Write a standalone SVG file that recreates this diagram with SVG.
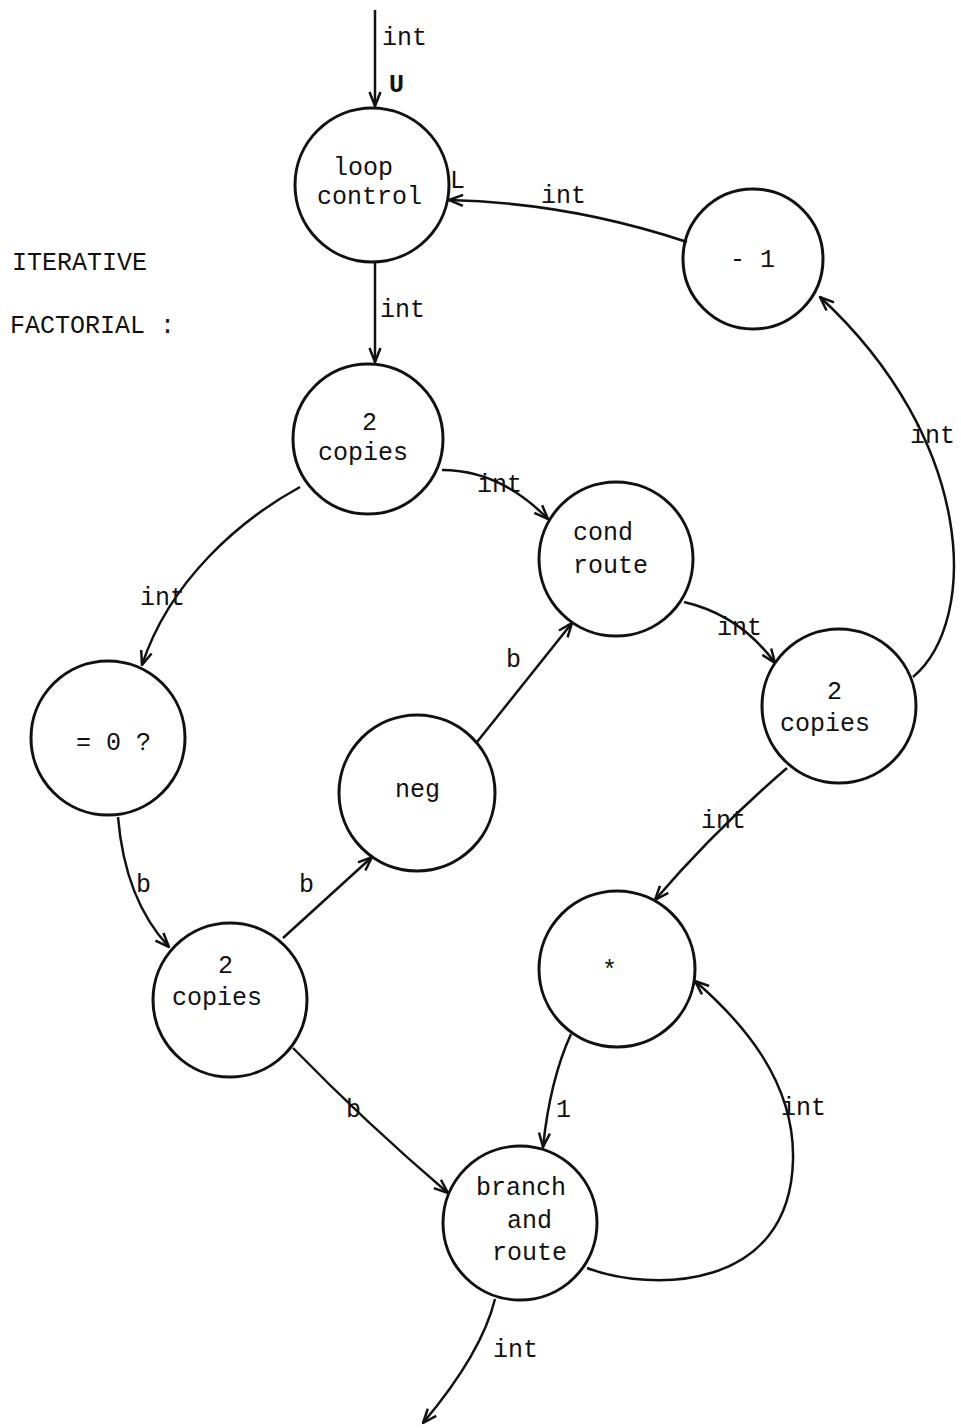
<svg xmlns="http://www.w3.org/2000/svg" width="961" height="1428" viewBox="0 0 961 1428">
  <style>
    .node { fill: none; stroke: #111111; stroke-width: 3; }
    .edge { fill: none; stroke: #111111; stroke-width: 2.5; }
    text { font-family: "Liberation Mono", "DejaVu Sans Mono", monospace; font-size: 25px; fill: #111111; }
  </style>
  <defs>
    <marker id="arrow" viewBox="0 0 16 14" refX="15" refY="7" markerWidth="16" markerHeight="14" markerUnits="userSpaceOnUse" orient="auto">
      <path d="M1,1.5 L15,7 L1,12.5" fill="none" stroke="#111111" stroke-width="2.5"/>
    </marker>
  </defs>
  <rect width="961" height="1428" fill="#ffffff"/>

  <!-- title -->
  <g id="title">
    <text x="12" y="270">ITERATIVE</text>
    <text x="10" y="333">FACTORIAL :</text>
  </g>

  <!-- connectors -->
  <g id="connectors">
    <path class="edge" d="M375,10 L375,106" marker-end="url(#arrow)"/>
    <path class="edge" d="M375,263 L375,362" marker-end="url(#arrow)"/>
    <path class="edge" d="M687,242 Q570,203 449,200" marker-end="url(#arrow)"/>
    <path class="edge" d="M913,677 C980,620 975,440 820,297" marker-end="url(#arrow)"/>
    <path class="edge" d="M442,470 Q500,470 548,519" marker-end="url(#arrow)"/>
    <path class="edge" d="M300,487 C240,520 170,580 142,665" marker-end="url(#arrow)"/>
    <path class="edge" d="M118,817 Q125,900 169,947" marker-end="url(#arrow)"/>
    <path class="edge" d="M283,938 L372,857" marker-end="url(#arrow)"/>
    <path class="edge" d="M477,742 L572,623" marker-end="url(#arrow)"/>
    <path class="edge" d="M293,1048 Q365,1122 448,1193" marker-end="url(#arrow)"/>
    <path class="edge" d="M684,602 Q740,615 775,663" marker-end="url(#arrow)"/>
    <path class="edge" d="M787,768 Q715,830 655,900" marker-end="url(#arrow)"/>
    <path class="edge" d="M571,1034 Q550,1080 543,1147" marker-end="url(#arrow)"/>
    <path class="edge" d="M587,1268 C650,1292 790,1292 793,1160 C795,1080 740,1020 695,981" marker-end="url(#arrow)"/>
    <path class="edge" d="M495,1299 C485,1340 455,1385 423,1423" marker-end="url(#arrow)"/>
  </g>

  <!-- connector labels -->
  <g id="edge-labels">
    <text x="382" y="45">int</text>
    <text x="389" y="92" font-weight="bold">U</text>
    <text x="450" y="188">L</text>
    <text x="541" y="203">int</text>
    <text x="380" y="317">int</text>
    <text x="910" y="443">int</text>
    <text x="477" y="492">int</text>
    <text x="140" y="605">int</text>
    <text x="717" y="635">int</text>
    <text x="506" y="667">b</text>
    <text x="701" y="828">int</text>
    <text x="136" y="892">b</text>
    <text x="299" y="892">b</text>
    <text x="346" y="1117">b</text>
    <text x="556" y="1117">1</text>
    <text x="781" y="1115">int</text>
    <text x="493" y="1357">int</text>
  </g>

  <!-- nodes -->
  <g id="loop-control">
    <circle class="node" cx="372" cy="185" r="77"/>
    <text x="333" y="175">loop</text>
    <text x="317" y="204">control</text>
  </g>
  <g id="minus-one">
    <circle class="node" cx="753" cy="259" r="70"/>
    <text x="730" y="267">- 1</text>
  </g>
  <g id="copies-top">
    <circle class="node" cx="368" cy="439" r="75"/>
    <text x="362" y="430">2</text>
    <text x="318" y="460">copies</text>
  </g>
  <g id="cond-route">
    <circle class="node" cx="616" cy="559" r="77"/>
    <text x="573" y="540">cond</text>
    <text x="573" y="573">route</text>
  </g>
  <g id="is-zero">
    <circle class="node" cx="108" cy="738" r="77"/>
    <text x="76" y="750">= 0 ?</text>
  </g>
  <g id="neg">
    <circle class="node" cx="417" cy="793" r="78"/>
    <text x="395" y="797">neg</text>
  </g>
  <g id="copies-right">
    <circle class="node" cx="839" cy="706" r="77"/>
    <text x="827" y="699">2</text>
    <text x="780" y="731">copies</text>
  </g>
  <g id="copies-left">
    <circle class="node" cx="230" cy="1000" r="77"/>
    <text x="218" y="973">2</text>
    <text x="172" y="1005">copies</text>
  </g>
  <g id="multiply">
    <circle class="node" cx="617" cy="969" r="78"/>
    <text x="602" y="978">*</text>
  </g>
  <g id="branch-and-route">
    <circle class="node" cx="520" cy="1223" r="77"/>
    <text x="476" y="1195">branch</text>
    <text x="507" y="1228">and</text>
    <text x="492" y="1260">route</text>
  </g>
</svg>
